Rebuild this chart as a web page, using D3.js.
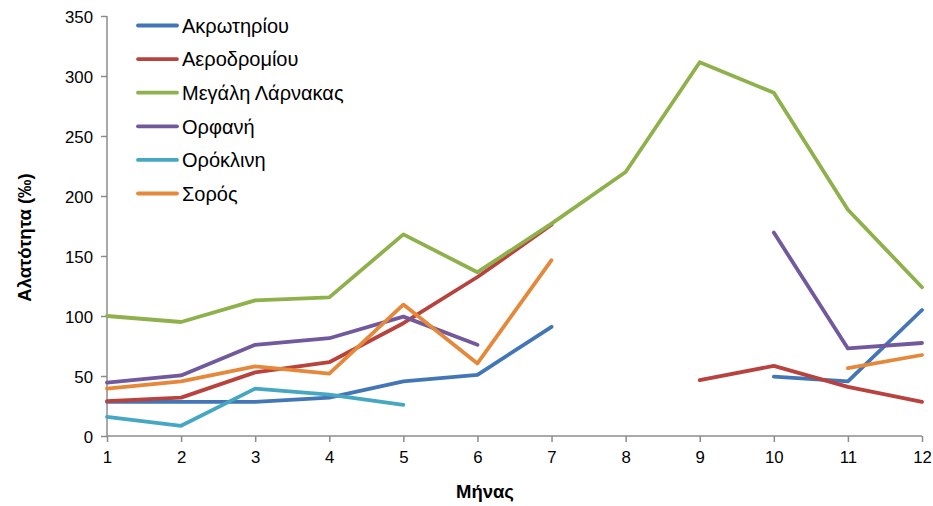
<!DOCTYPE html>
<html>
<head>
<meta charset="utf-8">
<script src="https://cdn.jsdelivr.net/npm/d3@7"></script>
<style>
  body { margin: 0; background: #fff; }
  svg { font-family: "Liberation Sans", Arial, sans-serif; }
  .axis path, .axis line { stroke: #8c8c8c; stroke-width: 1.5; }
  .axis text { font-size: 16.8px; fill: #000; }
</style>
</head>
<body>
<div id="chart"></div>
<script>
// months on the x axis
const months = [1, 2, 3, 4, 5, 6, 7, 8, 9, 10, 11, 12];
const yTicks = [0, 50, 100, 150, 200, 250, 300, 350];

// salinity (‰) per station, null = no measurement
const akrotiriou   = [28.5, 28.5, 28.5, 32, 45.5, 51, 91, null, null, 49.5, 45.5, 105];
const aerodromiou  = [29, 32, 53, 61.5, 94, 132.5, 176, null, 46.5, 58.5, 41, 28.5];
const megaliLarnakas = [100, 95, 113, 115.5, 168, 136.5, 177, 220, 311.5, 286, 188.5, 124];
const orfani       = [44.5, 50.5, 76, 81.5, 99.5, 76, null, null, null, 169.5, 73, 77.5];
const oroklini     = [16, 8.5, 39.5, 34.5, 26, null, null, null, null, null, null, null];
const soros        = [39.5, 45.5, 58, 52, 109.5, 60.5, 146.5, null, null, null, 56.5, 67.5];

const seriesNames = ['Ακρωτηρίου', 'Αεροδρομίου', 'Μεγάλη Λάρνακας', 'Ορφανή', 'Ορόκλινη', 'Σορός'];
const seriesValues = [akrotiriou, aerodromiou, megaliLarnakas, orfani, oroklini, soros];
const colors = ['#4276B6', '#B8433E', '#8FB14C', '#72589C', '#46A7C2', '#E5883A'];

let margin = {top: 16, right: 11, bottom: 70, left: 107},
    width = 933 - margin.left - margin.right,
    height = 506 - margin.top - margin.bottom;

let x = d3.scaleLinear().domain([1, 12]).range([0, width]);
let y = d3.scaleLinear().domain([0, 350]).range([height, 0]);

let svg = d3.select('#chart').append('svg')
  .attr('width', width + margin.left + margin.right)
  .attr('height', height + margin.top + margin.bottom)
  .append('g')
  .attr('transform', 'translate(' + margin.left + ',' + margin.top + ')');

svg.append('g')
  .attr('class', 'y axis')
  .call(d3.axisLeft(y).tickValues(yTicks).tickSize(6).tickPadding(8))
  .call(g => g.selectAll('text').attr('dy', '0.36em'));

svg.append('g')
  .attr('class', 'x axis')
  .attr('transform', 'translate(0,' + height + ')')
  .call(d3.axisBottom(x).tickValues(months).tickFormat(d3.format('d')).tickSize(6).tickPadding(9));

svg.selectAll('.axis .domain').attr('d', function() {
  return d3.select(this.parentNode).classed('x')
    ? 'M0,0H' + width
    : 'M0,0V' + height;
});

let line = d3.line()
  .defined(d => d.value != null)
  .x(d => x(d.month))
  .y(d => y(d.value));

seriesValues.forEach(function(values, i) {
  let data = values.map((v, j) => ({month: months[j], value: v}));
  svg.append('path')
    .datum(data)
    .attr('fill', 'none')
    .attr('stroke', colors[i])
    .attr('stroke-width', 3.8)
    .attr('stroke-linejoin', 'round')
    .attr('stroke-linecap', 'round')
    .attr('d', line);
});

// legend
let legend = svg.append('g').attr('transform', 'translate(31,9.5)');
seriesNames.forEach(function(name, i) {
  let row = legend.append('g').attr('transform', 'translate(0,' + (i * 33.6) + ')');
  row.append('line')
    .attr('x1', 0).attr('x2', 39)
    .attr('stroke', colors[i])
    .attr('stroke-width', 3.8)
    .attr('stroke-linecap', 'round');
  row.append('text')
    .attr('x', 44)
    .attr('dy', '0.36em')
    .style('font-size', '20px')
    .text(name);
});

// axis titles
svg.append('text')
  .attr('transform', 'rotate(-90)')
  .attr('x', -221.5)
  .attr('y', -76)
  .style('text-anchor', 'middle')
  .style('font-size', '18.5px')
  .style('font-weight', 'bold')
  .text('Αλατότητα (‰)');

svg.append('text')
  .attr('x', 378)
  .attr('y', height + 62)
  .style('text-anchor', 'middle')
  .style('font-size', '18.5px')
  .style('font-weight', 'bold')
  .text('Μήνας');
</script>
</body>
</html>
